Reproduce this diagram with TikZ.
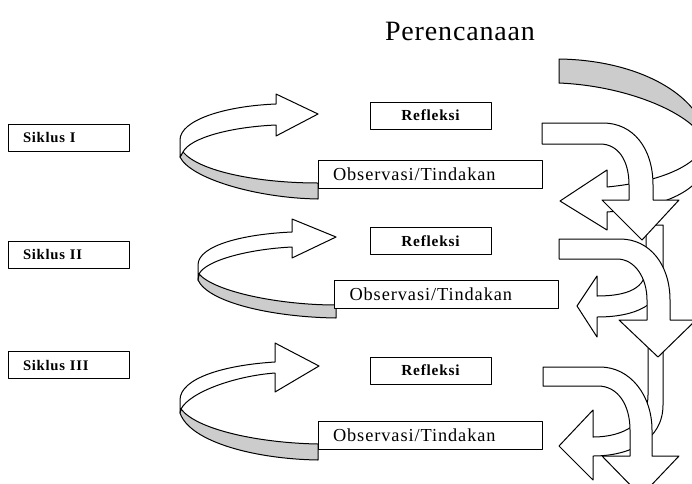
\documentclass[tikz,border=0pt]{standalone}
\usepackage{fontspec}
\setmainfont{Liberation Serif}
\newfontfamily\boxfont[LetterSpace=5]{Liberation Serif}
\newfontfamily\titlefont[LetterSpace=3]{Liberation Serif}
\definecolor{bandgray}{RGB}{204,204,204}

\begin{document}
\begin{tikzpicture}[line cap=round,line join=round,x=0.75pt,y=-0.75pt,
  face/.style={draw=black,line width=0.75pt,fill=white},
  back/.style={draw=black,line width=0.75pt,fill=bandgray},
  sikbox/.style={draw=black,line width=0.75pt,fill=white,minimum height=20.25pt,text width=68.25pt,inner xsep=11.25pt,inner ysep=0pt,align=left,font=\boxfont\bfseries\fontsize{11}{13}\selectfont},
  refbox/.style={draw=black,line width=0.75pt,fill=white,minimum width=90.75pt,minimum height=20.25pt,inner ysep=0pt,font=\boxfont\bfseries\fontsize{11.5}{13}\selectfont},
  obsbox/.style={draw=black,line width=0.75pt,fill=white,minimum height=21pt,text width=145.5pt,inner xsep=11.25pt,inner ysep=0pt,align=left,font=\boxfont\fontsize{13.75}{15}\selectfont}]
\useasboundingbox (0,0) rectangle (692,483);
\clip (0,0) rectangle (692,483);
\node[font=\titlefont\fontsize{21}{24}\selectfont] (plan) at (460,31) {Perencanaan};
% Perencanaan arrows (right side)
\draw[back] (559,59) .. controls (630,60) and (690,88) .. (705,130) -- (705,142) .. controls (695,115) and (630,86) .. (559,83) -- cycle;
\draw[face] (705,142) -- (705,165) .. controls (700,192) and (660,208) .. (607,212) -- (607,230) -- (560,201) -- (607,170) -- (607,187) .. controls (660,182) and (700,165) .. (705,142) -- cycle;
\draw[face] (646,225) -- (663,225) -- (663,275) .. controls (663,305) and (635,317) .. (597,317) -- (597,337) -- (577,306) -- (597,276) -- (597,296) .. controls (628,296) and (646,288) .. (646,268) -- cycle;
\draw[face] (648,345) -- (663,345) -- (663,405) .. controls (663,440) and (630,456) .. (593,456) -- (593,480) -- (559,446) -- (593,410) -- (593,437) .. controls (625,437) and (648,422) .. (648,395) -- cycle;
% Refleksi arrows
\draw[face] (542,123) -- (603,123) .. controls (633,123) and (653,148) .. (653,185) -- (653,200) -- (679,200) -- (642,240) -- (602,200) -- (629,200) -- (629,185) .. controls (629,160) and (618,144) .. (600,144) -- (542,144) -- cycle;
\draw[face] (559,239) -- (620,239) .. controls (650,239) and (670,265) .. (670,300) -- (670,320) -- (696,320) -- (658,357) -- (619,320) -- (647,320) -- (647,300) .. controls (647,278) and (635,259) .. (617,259) -- (559,259) -- cycle;
\draw[face] (543,367) -- (600,367) .. controls (630,367) and (652,395) .. (652,430) -- (652,456) -- (679,456) -- (641,496) -- (602,456) -- (630,456) -- (630,430) .. controls (630,405) and (618,386) .. (598,386) -- (543,386) -- cycle;
% Observasi loops (left side)
\draw[back] (183,152) .. controls (200,172) and (260,183) .. (318,183) -- (318,199) .. controls (255,198) and (190,178) .. (180,157) -- cycle;
\draw[face] (180,140) .. controls (180,120) and (225,106) .. (276,104) -- (276,94) -- (318,114) -- (276,136) -- (276,125) .. controls (230,127) and (190,138) .. (183,152) -- (180,157) -- cycle;
\draw[back] (199,274) .. controls (215,292) and (280,305) .. (336,305) -- (336,318) .. controls (270,317) and (208,302) .. (198,280) -- cycle;
\draw[face] (198,265) .. controls (198,245) and (245,234) .. (292,232) -- (292,219) -- (336,237) -- (292,258) -- (292,247) .. controls (250,249) and (206,260) .. (199,274) -- (198,280) -- cycle;
\draw[back] (181,409) .. controls (197,430) and (260,443) .. (318,444) -- (318,460) .. controls (255,459) and (190,442) .. (180,413) -- cycle;
\draw[face] (180,400) .. controls (180,378) and (225,365) .. (275,362) -- (275,343) -- (319,366) -- (275,392) -- (275,373) .. controls (235,376) and (190,392) .. (181,409) -- (180,413) -- cycle;
% boxes
\foreach \y/\n/\t in {137.5/1/I,254.5/2/II,365/3/III}
  \node[sikbox] (sik\n) at (68.5,\y) {Siklus \t};
\foreach \y/\n in {115.5/1,241/2,370.5/3}
  \node[refbox] (ref\n) at (430.5,\y) {Refleksi};
\foreach \x/\y/\n in {430/174/1,446.5/294/2,430/435/3}
  \node[obsbox] (obs\n) at (\x,\y) {Observasi/Tindakan};
\end{tikzpicture}
\end{document}
